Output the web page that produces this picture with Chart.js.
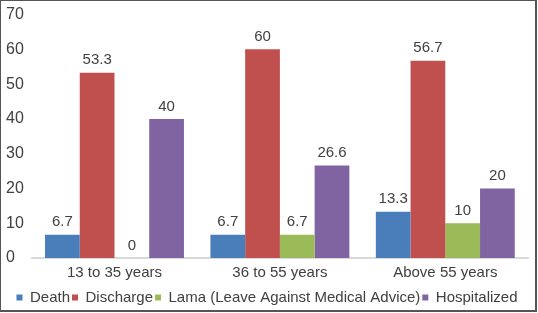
<!DOCTYPE html>
<html>
<head>
<meta charset="utf-8">
<script src="https://cdn.jsdelivr.net/npm/chart.js@4.4.0/dist/chart.umd.min.js"></script>
<style>
  html, body { margin: 0; padding: 0; background: #fff; }
  #wrap { width: 537px; height: 312px; box-sizing: border-box; border: 1px solid #555; border-width: 1px 2px 2px 1px; position: relative; }
  canvas { display: block; }
</style>
</head>
<body>
<div id="wrap"><canvas id="chart" width="534" height="309"></canvas></div>
<script>
// categories and series
const ageGroups = ['13 to 35 years', '36 to 55 years', 'Above 55 years'];
const death = [6.7, 6.7, 13.3];
const discharge = [53.3, 60, 56.7];
const lama = [0, 6.7, 10];
const hospitalized = [40, 26.6, 20];
const yTicks = [0, 10, 20, 30, 40, 50, 60, 70];

// draws value labels above each bar
const valueLabels = {
    id: 'valueLabels',
    afterDatasetsDraw(chart) {
        const ctx = chart.ctx;
        ctx.save();
        ctx.font = '15px "Liberation Sans", Arial, sans-serif';
        ctx.fillStyle = '#404040';
        ctx.textAlign = 'center';
        ctx.textBaseline = 'bottom';
        chart.data.datasets.forEach((ds, i) => {
            chart.getDatasetMeta(i).data.forEach((bar, j) => {
                ctx.fillText(String(ds.data[j]), bar.x, bar.y - 5);
            });
        });
        ctx.restore();
    }
};

const ctx = document.getElementById('chart').getContext('2d');
new Chart(ctx, {
    type: 'bar',
    data: {
        labels: ageGroups,
        datasets: [
            { label: 'Death', data: death, backgroundColor: '#4a7ebb' },
            { label: 'Discharge', data: discharge, backgroundColor: '#c0504d' },
            { label: 'Lama (Leave Against Medical Advice)', data: lama, backgroundColor: '#9bbb59' },
            { label: 'Hospitalized', data: hospitalized, backgroundColor: '#8064a2' }
        ]
    },
    options: {
        responsive: false,
        animation: false,
        layout: { padding: { top: 2, right: 7, left: 5, bottom: -5 } },
        datasets: {
            bar: { categoryPercentage: 0.84, barPercentage: 1 }
        },
        scales: {
            x: {
                grid: { display: false, drawTicks: false },
                border: { color: '#d9d9d9', width: 2 },
                ticks: { color: '#404040', font: { size: 15, family: '"Liberation Sans", Arial' }, padding: 6, maxRotation: 0 }
            },
            y: {
                min: 0,
                max: 70,
                afterBuildTicks: axis => { axis.ticks = yTicks.map(v => ({ value: v })); },
                grid: { display: false, drawTicks: false },
                border: { display: false },
                ticks: { color: '#404040', font: { size: 16, family: '"Liberation Sans", Arial' }, padding: 4, crossAlign: 'far' }
            }
        },
        plugins: {
            legend: {
                position: 'bottom',
                labels: {
                    color: '#404040',
                    font: { size: 15, family: '"Liberation Sans", Arial' },
                    boxWidth: 6,
                    boxHeight: 6,
                    padding: 2
                }
            },
            tooltip: { enabled: false }
        }
    },
    plugins: [valueLabels]
});
</script>
</body>
</html>
